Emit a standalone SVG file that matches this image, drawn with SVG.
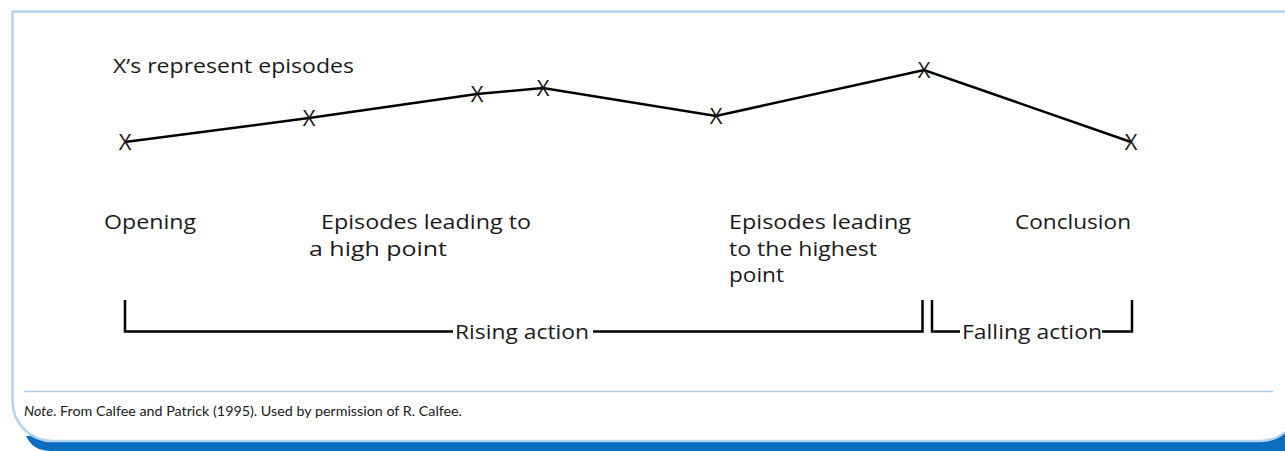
<svg xmlns="http://www.w3.org/2000/svg" width="1285" height="451" viewBox="0 0 1285 451">
<style>
text{font-family:"Open Sans","Noto Sans","Liberation Sans",sans-serif;fill:#1a1a1a}
.lbl{font-size:20.5px}
.mk{font-size:22px;text-anchor:middle}
.ln{fill:none;stroke:#000;stroke-width:2.5;stroke-linejoin:miter}
.note{font-family:Lato,"Noto Sans",sans-serif;font-size:14.3px}
</style>
<g id="frame">
<path d="M26,436 C31,446 38,451 52,451 H1285 V380 H1200 Z" fill="#0a6ebf"/>
<path d="M12.5,11.5 H1300 V401 A40,40 0 0 1 1260,441 H52.5 A40,40 0 0 1 12.5,401 Z" fill="#fff" stroke="#b3d2ec" stroke-width="2.5"/>
<line x1="24" y1="391.5" x2="1273" y2="391.5" stroke="#a9cbe8" stroke-width="1.5"/>
</g>
<g id="legend"><text class="lbl" x="113" y="73" textLength="241" lengthAdjust="spacingAndGlyphs">X’s represent episodes</text></g>
<g id="connectors">
<polyline class="ln" points="125,142 309,118 477,94 543,88 716,116 924,70 1131,142"/>
<polyline class="ln" points="125,300 125,331.5 453,331.5"/>
<polyline class="ln" points="593,331.5 922.5,331.5 922.5,300"/>
<polyline class="ln" points="932,300 932,331.5 960,331.5"/>
<polyline class="ln" points="1102,331.5 1132,331.5 1132,300"/>
</g>
<g id="episodes">
<text class="mk" x="125" y="150">X</text>
<text class="mk" x="309" y="126">X</text>
<text class="mk" x="477" y="102">X</text>
<text class="mk" x="543" y="96">X</text>
<text class="mk" x="716" y="124">X</text>
<text class="mk" x="924" y="78">X</text>
<text class="mk" x="1131" y="150">X</text>
</g>
<g id="opening"><text class="lbl" x="104" y="229" textLength="92" lengthAdjust="spacingAndGlyphs">Opening</text></g>
<g id="high-point"><text class="lbl" x="321" y="229" textLength="210" lengthAdjust="spacingAndGlyphs">Episodes leading to</text><text class="lbl" x="309" y="255.5" textLength="138" lengthAdjust="spacingAndGlyphs">a high point</text></g>
<g id="highest-point"><text class="lbl" x="729" y="229" textLength="182" lengthAdjust="spacingAndGlyphs">Episodes leading</text><text class="lbl" x="729" y="255.5" textLength="148" lengthAdjust="spacingAndGlyphs">to the highest</text><text class="lbl" x="729" y="282" textLength="55" lengthAdjust="spacingAndGlyphs">point</text></g>
<g id="conclusion"><text class="lbl" x="1015" y="229" textLength="116" lengthAdjust="spacingAndGlyphs">Conclusion</text></g>
<g id="rising"><text class="lbl" x="455" y="339" textLength="134" lengthAdjust="spacingAndGlyphs">Rising action</text></g>
<g id="falling"><text class="lbl" x="962" y="339" textLength="140" lengthAdjust="spacingAndGlyphs">Falling action</text></g>
<g id="note"><text class="note" x="24" y="416" textLength="438" lengthAdjust="spacingAndGlyphs"><tspan font-style="italic">Note</tspan>. From Calfee and Patrick (1995). Used by permission of R. Calfee.</text></g>
</svg>
